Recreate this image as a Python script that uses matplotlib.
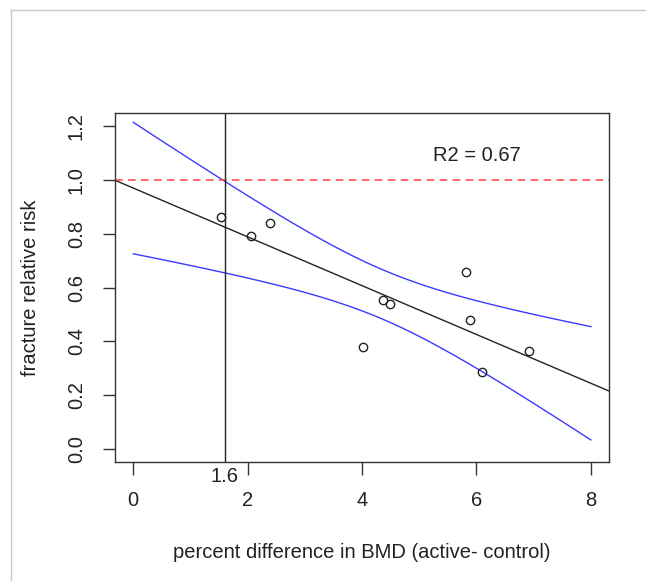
import numpy as np
import matplotlib.pyplot as plt
from matplotlib.lines import Line2D

# percent difference in BMD vs fracture relative risk
bmd_diff = [1.54, 2.05, 2.39, 4.02, 4.36, 4.48, 5.81, 5.89, 6.10, 6.91]
rel_risk = [0.862, 0.791, 0.841, 0.377, 0.552, 0.537, 0.657, 0.479, 0.286, 0.364]
x_ticks = [0, 2, 4, 6, 8]
y_ticks = [0.0, 0.2, 0.4, 0.6, 0.8, 1.0, 1.2]
threshold = 1.6
t_crit = 2.306  # t(0.975, df=8)

plt.rcParams['font.family'] = ['Liberation Sans', 'DejaVu Sans']
fs = 14.5

x = np.array(bmd_diff)
y = np.array(rel_risk)
n = len(x)
slope, intercept = np.polyfit(x, y, 1)
resid = y - (intercept + slope * x)
s = np.sqrt(np.sum(resid ** 2) / (n - 2))
r2 = 1 - np.sum(resid ** 2) / np.sum((y - y.mean()) ** 2)

grid = np.linspace(0, 8, 100)
fit = intercept + slope * grid
se = s * np.sqrt(1 / n + (grid - x.mean()) ** 2 / np.sum((x - x.mean()) ** 2))

fig = plt.figure(figsize=(6.46, 5.81), dpi=100)
ax = fig.add_axes([0.178, 0.2053, 0.765, 0.5997])

ax.plot(x, y, 'o', mfc='none', mec='#222222', ms=6, mew=1, zorder=4)
ax.axline((0, intercept), slope=slope, color='#222222', lw=1)
ax.plot(grid, fit + t_crit * se, color='#3b3bff', lw=1)
ax.plot(grid, fit - t_crit * se, color='#3b3bff', lw=1)
ax.axhline(1.0, color='#ff4040', lw=1.1, dashes=(5, 3.5))
ax.axvline(threshold, color='#222222', lw=1)
ax.text(6, 1.09, 'R2 = %.2f' % r2, fontsize=fs, color='#222222', ha='center', va='center')

ax.set_xlim(-0.32, 8.32)
ax.set_ylim(-0.048, 1.248)
ax.set_xticks(x_ticks)
ax.set_yticks(y_ticks)
ax.set_yticklabels(['%.1f' % v for v in y_ticks], rotation=90, va='center')
ax.tick_params(axis='both', length=9, width=1, color='#333333', labelsize=fs,
               labelcolor='#222222')
ax.tick_params(axis='x', pad=12)
ax.tick_params(axis='y', pad=12)
for sp in ax.spines.values():
    sp.set_color('#333333')
    sp.set_linewidth(1)

ax.annotate('%.1f' % threshold, xy=(threshold, 0), xycoords=('data', 'axes fraction'),
            xytext=(0, -4), textcoords='offset points', ha='center', va='top',
            fontsize=fs, color='#222222', annotation_clip=False)

ax.set_xlabel('percent difference in BMD (active- control)', fontsize=fs, color='#222222',
              labelpad=23.5)
ax.set_ylabel('fracture relative risk', fontsize=fs, color='#222222', labelpad=19)

# screenshot frame lines
fig.add_artist(Line2D([11 / 646, 1], [1 - 10 / 581] * 2, transform=fig.transFigure,
                      color='#c8c8c8', lw=1))
fig.add_artist(Line2D([11 / 646] * 2, [0, 1 - 10 / 581], transform=fig.transFigure,
                      color='#c8c8c8', lw=1))

fig.savefig('out.png', dpi=100, facecolor='white')
